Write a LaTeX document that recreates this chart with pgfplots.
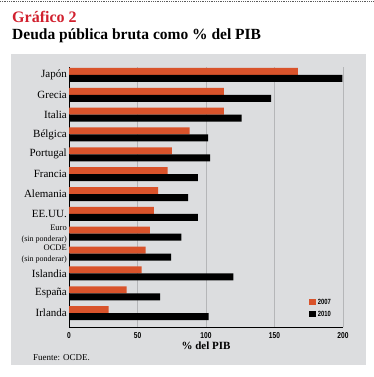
\documentclass[border=0pt]{standalone}
\usepackage{pgfplots}
\pgfplotsset{compat=1.18}
\usepackage{fontspec}
\setmainfont{Liberation Serif}
\newfontfamily\condfont[FakeStretch=0.78]{Liberation Sans}
\definecolor{barorange}{HTML}{D9532B}
\definecolor{panelgray}{HTML}{DCDDDF}
\definecolor{titlered}{HTML}{D1202E}
\definecolor{gridgray}{HTML}{B5B6B8}
\begin{document}
\begin{tikzpicture}
\useasboundingbox (0,0) rectangle (373pt,-377pt);
\draw[densely dotted, line width=0.8pt, gray!70!black] (0,-1pt) -- (373pt,-1pt);
\fill[panelgray] (11pt,-54pt) rectangle (366pt,-365pt);
\node[anchor=west, text=titlered, inner sep=0pt] at (12pt,-17pt) {\fontsize{16}{18}\selectfont\bfseries Gráfico 2};
\node[anchor=west, inner sep=0pt] at (12pt,-36pt) {\fontsize{15.5}{18}\selectfont\bfseries Deuda pública bruta como \% del PIB};
\node[anchor=west, inner sep=0pt] at (33pt,-358pt) {\fontsize{9}{10}\selectfont Fuente: OCDE.};
\begin{axis}[
  at={(69pt,-327pt)}, anchor=south west,
  scale only axis, width=274pt, height=260pt,
  xbar, bar width=7pt,
  xmin=0, xmax=200, ymin=-0.7, ymax=12.4,
  axis x line*=bottom, axis y line*=left,
  axis line style={line width=1pt, black, -},
  xtick={0,50,100,150,200},
  xmajorgrids, major grid style={gridgray, line width=0.6pt},
  major tick length=0pt,
  xticklabel style={font=\condfont\bfseries\fontsize{8.5}{9}\selectfont, yshift=-2pt},
  /pgf/number format/assume math mode=true,
  xlabel={\bfseries\% del PIB},
  xlabel style={font=\fontsize{11}{12}\selectfont, yshift=4pt},
  ytick={0,...,12},
  yticklabels={Irlanda, España, Islandia, {\fontsize{8.5}{9}\selectfont OCDE\\[-1pt]\fontsize{8}{9}\selectfont(sin ponderar)}, {\fontsize{8.5}{9}\selectfont Euro\\[-1pt]\fontsize{8}{9}\selectfont(sin ponderar)}, EE.UU., Alemania, Francia, Portugal, Bélgica, Italia, Grecia, Japón},
  yticklabel style={font=\fontsize{11}{12}\selectfont, align=right, inner sep=2pt},
  legend style={at={(0.975,0.02)}, anchor=south east, draw=none, fill=none, font=\condfont\bfseries\fontsize{7.5}{9}\selectfont, row sep=1pt},
  legend cell align=left,
  legend image code/.code={\fill[#1] (0pt,-3pt) rectangle (6.5pt,3.5pt);},
]
\addplot[fill=barorange, draw=none, bar shift=3.5pt] coordinates {(29,0) (42,1) (53,2) (56,3) (59,4) (62,5) (65,6) (72,7) (75,8) (88,9) (113,10) (113,11) (167,12)};
\addplot[fill=black, draw=none, bar shift=-3.5pt] coordinates {(102,0) (66.5,1) (120,2) (74.5,3) (82,4) (94,5) (87,6) (94,7) (103,8) (101.5,9) (126,10) (147.5,11) (199.5,12)};
\legend{2007,2010}
\end{axis}
\end{tikzpicture}
\end{document}
